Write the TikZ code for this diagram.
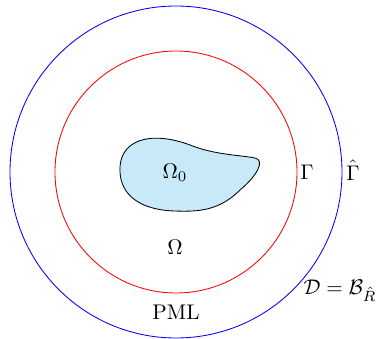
\documentclass[tikz,border=0pt]{standalone}
\usepackage{amsmath, amssymb}
\definecolor{obstacle}{RGB}{200,234,248}

\begin{document}
\begin{tikzpicture}[x=0.472pt, y=-0.472pt,
  every node/.style={inner sep=1pt},
  lbl/.style={font=\normalsize}]
\useasboundingbox (0,0) rectangle (377,339);
\coordinate (centre) at (176,172);
% outer and inner circles
\draw[blue] (centre) circle[radius=166];
\draw[red] (centre) circle[radius=121];
% scatterer
\draw[fill=obstacle] (120,172) .. controls (118,140) and (150,130) .. (190,145)
  .. controls (215,155) and (240,155) .. (255,158)
  .. controls (265,160) and (258,175) .. (240,190)
  .. controls (220,210) and (200,212) .. (175,211)
  .. controls (140,210) and (121,195) .. (120,172) -- cycle;
\node[lbl] (omega0) at (175,173) {$\Omega_0$};
\node[lbl] (omega) at (175,247) {$\Omega$};
\node[lbl] (gamma) at (307,172) {$\Gamma$};
\node[lbl] (gammahat) at (353,170) {$\hat{\Gamma}$};
\node[lbl] (pml) at (176,312) {PML};
\node[lbl] (domain) at (340,291) {$\mathcal{D}=\mathcal{B}_{\hat{R}}$};
\end{tikzpicture}
\end{document}
